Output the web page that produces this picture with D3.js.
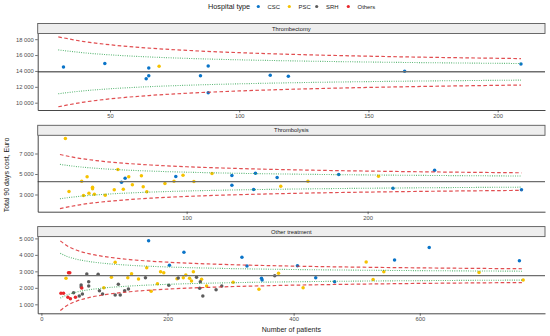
<!DOCTYPE html>
<html><head><meta charset="utf-8">
<script src="https://cdn.jsdelivr.net/npm/d3@7"></script>
<style>body{margin:0;background:#fff}svg{display:block;font-family:"Liberation Sans",Arial,Helvetica,sans-serif}</style>
</head><body><svg id="c" width="550" height="336"></svg>
<script>
// ---------------- DATA ----------------
const hospitalTypes = ["CSC", "PSC", "SRH", "Others"];
const panelTitles = ["Thrombectomy", "Thrombolysis", "Other treatment"];
const xTickValues = [[50, 100, 150, 200], [100, 200], [0, 200, 400, 600]];
const yTickValues = [[10000, 12000, 14000, 16000, 18000], [3000, 5000, 7000], [1000, 2000, 3000, 4000, 5000]];

// Thrombectomy
const tbN    = [32, 48, 64, 65, 65, 69, 85, 88, 88, 112, 119, 164, 209];
const tbCost = [14505, 14940, 13025, 13405, 14380, 14594, 13405, 14633, 11240, 13450, 13320, 13957, 14888];
const tbType = ["CSC","CSC","CSC","CSC","CSC","PSC","CSC","CSC","CSC","CSC","CSC","CSC","CSC"];
const tbMean = 13890;
const tbLimN    = [30, 40, 50, 65, 80, 100, 125, 150, 180, 209];
const tbUp998   = [18290, 17700, 17298, 16879, 16585, 16300, 16046, 15858, 15686, 15557];
const tbLo998   = [9490, 10080, 10482, 10901, 11195, 11480, 11734, 11922, 12094, 12223];
const tbUp95    = [16650, 16280, 16028, 15765, 15580, 15402, 15242, 15124, 15017, 14936];
const tbLo95    = [11130, 11500, 11752, 12015, 12200, 12378, 12538, 12656, 12763, 12844];

// Thrombolysis
const tlN    = [33, 35, 42, 45, 43, 46, 48, 48, 49, 55, 60, 62, 64, 65, 66, 68, 70, 75, 76, 78, 88, 93, 94, 98, 104, 114, 125, 125, 137, 138, 150, 152, 167, 184, 206, 214, 237, 285];
const tlCost = [8470, 3293, 4290, 4727, 2902, 3127, 3712, 3556, 3029, 2932, 3459, 5439, 4200, 3517, 4590, 4727, 3946, 4824, 3751, 3263, 4073, 4300, 4756, 4883, 4268, 5049, 4854, 3907, 3488, 5078, 4659, 3810, 4300, 4951, 4785, 3615, 5371, 3459];
const tlType = ["PSC","PSC","PSC","PSC","PSC","PSC","PSC","PSC","PSC","PSC","PSC","PSC","CSC","PSC","CSC","PSC","PSC","PSC","PSC","PSC","PSC","PSC","CSC","PSC","PSC","PSC","CSC","CSC","CSC","CSC","CSC","PSC","PSC","CSC","PSC","CSC","CSC","CSC"];
const tlMean = 4260;
const tlLimN  = [30, 40, 50, 65, 80, 100, 130, 170, 220, 285];
const tlUp998 = [6905, 6551, 6309, 6057, 5880, 5709, 5531, 5371, 5237, 5118];
const tlLo998 = [1615, 1969, 2211, 2463, 2640, 2811, 2989, 3149, 3283, 3402];
const tlUp95  = [5935, 5711, 5557, 5398, 5286, 5177, 5065, 4964, 4879, 4803];
const tlLo95  = [2585, 2809, 2963, 3122, 3234, 3343, 3455, 3556, 3641, 3717];

// Other treatment
const otN = [170, 226, 203, 318, 326, 349, 350, 406, 435, 465, 560, 615, 758,
  39, 117, 167, 189, 194, 111, 137, 143, 154, 215, 225, 229, 235, 241, 238, 254, 184, 174, 99, 262, 304, 345, 376, 415, 515, 526, 543, 694, 764,
  72, 90, 165, 217, 246, 252, 251, 256, 202, 122, 125, 117, 63, 63, 75, 75, 51, 60, 65, 92, 97, 132, 138, 277, 286, 370,
  31, 35, 43, 45, 42, 46, 54, 64];
const otCost = [4859, 4152, 3364, 3849, 3323, 2576, 2475, 3342, 2614, 2372, 3685, 4453, 3645,
  2576, 3546, 3222, 2980, 2919, 2637, 2616, 2859, 2536, 2556, 2616, 2778, 2576, 2980, 2414, 2515, 2253, 1788, 2010, 2111, 2334, 1909, 2879, 2008, 3564, 2513, 2978, 2938, 2473,
  2839, 2818, 2616, 2596, 2637, 2374, 1970, 1505, 2150, 2212, 1566, 1566, 2172, 2051, 2374, 2111, 1707, 1505, 1626, 1828, 1626, 1828, 1929, 1889, 2111, 2738,
  1667, 1667, 2919, 2919, 1425, 1344, 1425, 1990];
const otType = [].concat(
  Array(13).fill("CSC"), Array(29).fill("PSC"), Array(26).fill("SRH"), Array(8).fill("Others"));
const otMean = 2740;
const otLimN  = [30, 40, 55, 75, 100, 140, 200, 280, 380, 500, 620, 762];
const otUp998 = [4850, 4567, 4298, 4075, 3896, 3717, 3557, 3431, 3333, 3257, 3204, 3159];
const otLo998 = [630, 913, 1182, 1405, 1584, 1763, 1923, 2049, 2147, 2223, 2276, 2321];
const otUp95  = [4100, 3918, 3744, 3600, 3485, 3370, 3267, 3185, 3122, 3073, 3039, 3010];
const otLo95  = [1380, 1562, 1736, 1880, 1995, 2110, 2213, 2295, 2358, 2407, 2441, 2470];

// ---------------- STYLE / LAYOUT ----------------
const typeColor = {CSC: "#0a74c8", PSC: "#f6c200", SRH: "#5c5c5c", Others: "#e8272b"};
const panelLeft = 37.7, panelRight = 545;
const layout = [
  {stripTop: 23.5, top: 33.5, bottom: 110, xDom: [22.03, 218.3], yDom: [9080, 18716]},
  {stripTop: 125.3, top: 135.3, bottom: 211.7, xDom: [17.7, 298.0], yDom: [1322, 8776]},
  {stripTop: 226.6, top: 236.6, bottom: 313.3, xDom: [-5.87, 798.6], yDom: [455, 5109]}
];
const panelsData = [
  {n: tbN, cost: tbCost, type: tbType, mean: tbMean, limN: tbLimN, up998: tbUp998, lo998: tbLo998, up95: tbUp95, lo95: tbLo95},
  {n: tlN, cost: tlCost, type: tlType, mean: tlMean, limN: tlLimN, up998: tlUp998, lo998: tlLo998, up95: tlUp95, lo95: tlLo95},
  {n: otN, cost: otCost, type: otType, mean: otMean, limN: otLimN, up998: otUp998, lo998: otLo998, up95: otUp95, lo95: otLo95}
];

const fmt = d3.formatLocale({decimal: ".", thousands: " ", grouping: [3], currency: ["", ""]}).format(",");
const svg = d3.select("#c");
svg.append("rect").attr("width", 550).attr("height", 336).attr("fill", "#fff");

panelsData.forEach((pd, i) => {
  const L = layout[i];
  const x = d3.scaleLinear().domain(L.xDom).range([panelLeft, panelRight]);
  const y = d3.scaleLinear().domain(L.yDom).range([L.bottom, L.top]);
  const g = svg.append("g");

  // strip
  g.append("rect").attr("x", panelLeft).attr("y", L.stripTop)
    .attr("width", panelRight - panelLeft).attr("height", L.top - L.stripTop)
    .attr("fill", "#eeeeee").attr("stroke", "#5a5a5a").attr("stroke-width", 0.9);
  g.append("text").attr("x", (panelLeft + panelRight) / 2).attr("y", (L.stripTop + L.top) / 2)
    .attr("dy", "0.35em").attr("text-anchor", "middle").attr("font-size", 5.8)
    .attr("fill", "#1a1a1a").text(panelTitles[i]);

  // points
  const pts = pd.n.map((v, k) => ({n: v, c: pd.cost[k], t: pd.type[k]}));
  g.append("g").selectAll("circle").data(pts).join("circle")
    .attr("cx", d => x(d.n)).attr("cy", d => y(d.c)).attr("r", 1.75)
    .attr("fill", d => typeColor[d.t]);

  // mean line
  g.append("line").attr("x1", panelLeft).attr("x2", panelRight)
    .attr("y1", y(pd.mean)).attr("y2", y(pd.mean))
    .attr("stroke", "#6e6e6e").attr("stroke-width", 1.4);

  // funnel limits
  const line = arr => d3.line().curve(d3.curveMonotoneX)
    .x((v, k) => x(pd.limN[k])).y(v => y(v))(arr);
  [pd.up95, pd.lo95].forEach(arr => g.append("path").attr("d", line(arr))
    .attr("fill", "none").attr("stroke", "#2ea24f").attr("stroke-opacity", 0.85)
    .attr("stroke-width", 1.1).attr("stroke-dasharray", "0.9,1.4"));
  [pd.up998, pd.lo998].forEach(arr => g.append("path").attr("d", line(arr))
    .attr("fill", "none").attr("stroke", "#dc2f33").attr("stroke-opacity", 0.85)
    .attr("stroke-width", 1.2).attr("stroke-dasharray", "3.6,2.4"));

  // axes
  const ax = g.append("g").attr("transform", `translate(0,${L.bottom})`)
    .call(d3.axisBottom(x).tickValues(xTickValues[i]).tickSize(2.5).tickSizeOuter(0).tickPadding(1.5).tickFormat(d3.format("d")));
  const ay = g.append("g").attr("transform", `translate(${panelLeft},0)`)
    .call(d3.axisLeft(y).tickValues(yTickValues[i]).tickSize(2.5).tickSizeOuter(0).tickPadding(1.5).tickFormat(fmt));
  [ax, ay].forEach(a => {
    a.select(".domain").attr("stroke", "#333").attr("stroke-width", 0.9);
    a.selectAll(".tick line").attr("stroke", "#333").attr("stroke-width", 0.7);
    a.selectAll(".tick text").attr("font-size", 5.8).attr("fill", "#4d4d4d")
      .attr("font-family", "Liberation Sans, Arial, sans-serif");
  });
});

// axis titles
svg.append("text").attr("x", (panelLeft + panelRight) / 2).attr("y", 329.5).attr("dy", "0.35em")
  .attr("text-anchor", "middle").attr("font-size", 7).attr("fill", "#1a1a1a").text("Number of patients");
svg.append("text").attr("transform", "translate(6.8,175) rotate(-90)").attr("dy", "0.35em")
  .attr("text-anchor", "middle").attr("font-size", 7).attr("fill", "#1a1a1a").text("Total 90 days cost, Euro");

// legend
const lg = svg.append("g");
lg.append("text").attr("x", 208).attr("y", 6.5).attr("dy", "0.35em").attr("font-size", 7.3)
  .attr("fill", "#1a1a1a").text("Hospital type");
const keyX = [258.3, 289.3, 316.7, 348.3];
hospitalTypes.forEach((t, k) => {
  lg.append("circle").attr("cx", keyX[k]).attr("cy", 6.5).attr("r", 1.6).attr("fill", typeColor[t]);
  lg.append("text").attr("x", keyX[k] + 9.3).attr("y", 6.5).attr("dy", "0.35em").attr("font-size", 5.9)
    .attr("fill", "#1a1a1a").text(t);
});
</script></body></html>
